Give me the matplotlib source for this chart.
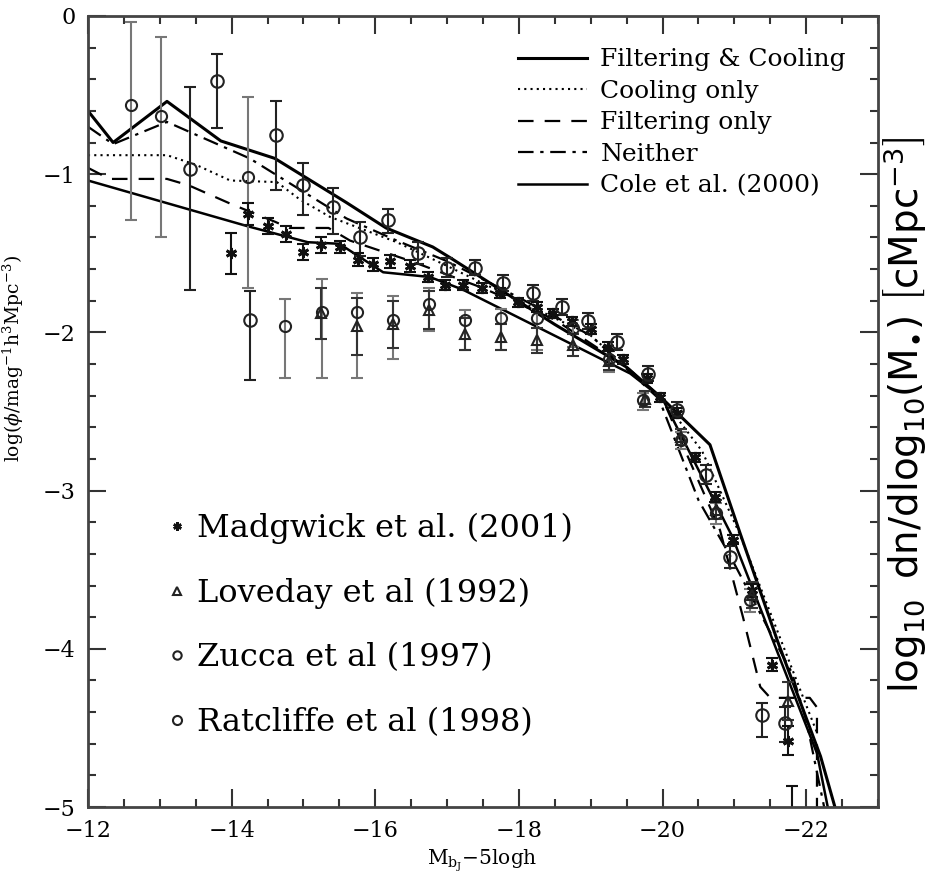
import matplotlib
matplotlib.use('Agg')
import matplotlib.pyplot as plt
from matplotlib.lines import Line2D
from matplotlib.ticker import MultipleLocator

plt.rcParams['font.family'] = 'DejaVu Serif'
plt.rcParams['mathtext.fontset'] = 'dejavuserif'

# model luminosity functions
fc_x = [-12.0, -12.35, -13.1, -13.85, -14.6, -15.6, -16.15, -16.8, -17.05, -17.5,
        -18.5, -19.5, -20.0, -20.66, -21.08, -21.6, -22.2, -22.4]
fc_y = [-0.60, -0.80, -0.54, -0.79, -0.90, -1.18, -1.34, -1.46, -1.53, -1.66,
        -1.95, -2.22, -2.42, -2.71, -3.27, -3.95, -4.68, -5.0]

cool_x = [-12.0, -13.1, -13.5, -13.98, -14.63, -14.95, -15.37, -16.3, -17.0, -18.0,
          -19.0, -20.0, -20.55, -21.08, -21.96, -22.15]
cool_y = [-0.88, -0.88, -0.94, -1.04, -1.05, -1.16, -1.27, -1.43, -1.58, -1.80,
          -2.02, -2.42, -2.75, -3.28, -4.31, -4.53]

filt_x = [-12.0, -12.3, -13.1, -13.4, -14.0, -14.6, -14.8, -15.35, -15.65, -16.5,
          -17.5, -18.5, -19.5, -20.0, -20.8, -21.12, -21.36, -21.5, -22.05, -22.15, -22.15]
filt_y = [-0.96, -1.03, -1.03, -1.07, -1.19, -1.30, -1.34, -1.34, -1.42, -1.55,
          -1.72, -1.92, -2.22, -2.42, -3.25, -3.80, -4.24, -4.31, -4.31, -4.37, -5.0]

neith_x = [-12.0, -12.35, -13.1, -14.25, -15.6, -16.3, -17.0, -18.0, -19.0, -19.95,
           -20.5, -20.95, -21.55, -21.8, -22.0, -22.25]
neith_y = [-0.70, -0.81, -0.67, -0.90, -1.28, -1.42, -1.55, -1.78, -2.02, -2.42,
           -3.06, -3.42, -3.94, -4.15, -4.45, -5.0]

cole_x = [-12.0, -14.23, -15.06, -15.5, -16.11, -16.76, -17.22, -19.55, -20.0,
          -20.97, -22.15, -22.3]
cole_y = [-1.04, -1.33, -1.43, -1.44, -1.62, -1.65, -1.73, -2.26, -2.42,
          -3.29, -4.66, -5.0]

# Madgwick et al. (2001)
mad_x = [-13.99, -14.23, -14.51, -14.76, -15.0, -15.25, -15.51, -15.76, -15.97, -16.2,
         -16.49, -16.74, -16.97, -17.22, -17.49, -17.74, -17.99, -18.25, -18.48, -18.74,
         -19.0, -19.24, -19.45, -19.79, -19.97, -20.2, -20.45, -20.73, -20.98, -21.25,
         -21.53, -21.75, -21.8]
mad_y = [-1.50, -1.25, -1.33, -1.38, -1.49, -1.45, -1.46, -1.54, -1.57, -1.55,
         -1.58, -1.65, -1.70, -1.70, -1.72, -1.75, -1.81, -1.84, -1.88, -1.93,
         -1.98, -2.09, -2.17, -2.29, -2.41, -2.51, -2.79, -3.04, -3.31, -3.63,
         -4.10, -4.58, -5.25]
mad_e = [0.13, 0.07, 0.05, 0.05, 0.05, 0.05, 0.04, 0.04, 0.04, 0.04,
         0.04, 0.03, 0.03, 0.03, 0.03, 0.03, 0.03, 0.03, 0.03, 0.03,
         0.03, 0.03, 0.03, 0.03, 0.03, 0.03, 0.03, 0.03, 0.03, 0.04,
         0.04, 0.09, 0.38]

# Loveday et al (1992)
lov_x = [-15.25, -15.75, -16.25, -16.75, -17.25, -17.75, -18.25, -18.75, -19.25,
         -19.75, -20.25, -20.75, -21.25, -21.75]
lov_y = [-1.88, -1.96, -1.95, -1.86, -2.01, -2.03, -2.05, -2.08, -2.18,
         -2.42, -2.66, -3.12, -3.66, -4.33]
lov_e = [0.16, 0.18, 0.15, 0.12, 0.10, 0.08, 0.08, 0.07, 0.06,
         0.05, 0.05, 0.06, 0.08, 0.12]

# Zucca et al (1997)
zuc_x = [-12.6, -13.02, -14.23, -14.74, -15.26, -15.75, -16.25, -16.75, -17.25,
         -17.75, -18.25, -18.75, -19.25, -19.73, -20.25, -20.74, -21.22]
zuc_y = [-0.56, -0.63, -1.02, -1.96, -1.87, -1.87, -1.92, -1.82, -1.92,
         -1.91, -1.91, -1.97, -2.17, -2.43, -2.68, -3.14, -3.69]
zuc_lo = [0.73, 0.77, 0.70, 0.33, 0.42, 0.42, 0.25, 0.17, 0.19,
          0.20, 0.20, 0.12, 0.08, 0.06, 0.06, 0.07, 0.08]
zuc_hi = [0.52, 0.50, 0.51, 0.17, 0.21, 0.12, 0.15, 0.10, 0.06,
          0.06, 0.06, 0.05, 0.05, 0.05, 0.05, 0.06, 0.07]

# Ratcliffe et al (1998)
rat_x = [-13.42, -13.8, -14.26, -14.62, -15.0, -15.41, -15.79, -16.18, -16.6, -17.0,
         -17.39, -17.78, -18.2, -18.6, -18.96, -19.37, -19.8, -20.2, -20.6, -20.94,
         -21.39, -21.71]
rat_y = [-0.97, -0.41, -1.92, -0.75, -1.07, -1.21, -1.40, -1.29, -1.50, -1.59,
         -1.59, -1.69, -1.75, -1.84, -1.93, -2.06, -2.26, -2.49, -2.90, -3.42,
         -4.42, -4.47]
rat_lo = [0.76, 0.30, 0.38, 0.35, 0.19, 0.17, 0.12, 0.08, 0.07, 0.06,
          0.05, 0.05, 0.05, 0.05, 0.05, 0.05, 0.05, 0.05, 0.06, 0.07,
          0.14, 0.12]
rat_hi = [0.52, 0.17, 0.18, 0.21, 0.14, 0.12, 0.10, 0.07, 0.07, 0.06,
          0.05, 0.05, 0.05, 0.05, 0.05, 0.05, 0.05, 0.05, 0.06, 0.07,
          0.08, 0.10]

fig = plt.figure(figsize=(9.3, 8.77), dpi=100)
ax = fig.add_axes([0.0946, 0.0798, 0.8495, 0.902])

ax.plot(fc_x, fc_y, color='black', lw=2.2, ls='-', label='Filtering & Cooling')
ax.plot(cool_x, cool_y, color='black', lw=1.5, ls=(0, (1, 2)), label='Cooling only')
ax.plot(filt_x, filt_y, color='black', lw=1.6, ls=(0, (7, 5)), label='Filtering only')
ax.plot(neith_x, neith_y, color='black', lw=1.6, ls=(0, (7, 3, 1.5, 3)), label='Neither')
ax.plot(cole_x, cole_y, color='black', lw=1.8, ls='-', label='Cole et al. (2000)')

eb = dict(capsize=4, elinewidth=1.5, capthick=1.5, ls='none')
ax.errorbar(zuc_x, zuc_y, yerr=[zuc_lo, zuc_hi], fmt='o', ms=8, mfc='none', mec='#222222',
            mew=1.5, ecolor='#777777', **eb)
ax.errorbar(rat_x, rat_y, yerr=[rat_lo, rat_hi], fmt='o', ms=9, mfc='none', mec='#222222',
            mew=1.5, ecolor='#222222', **eb)
ax.errorbar(lov_x, lov_y, yerr=lov_e, fmt='^', ms=7, mfc='none', mec='#222222',
            mew=1.5, ecolor='#333333', **eb)
ax.errorbar(mad_x, mad_y, yerr=mad_e, fmt='none', ecolor='#111111', **eb)
ax.plot(mad_x, mad_y, ls='none', marker=(6, 2, 0), ms=8, mew=2, color='#111111')

ax.set_xlim(-12, -23)
ax.set_ylim(-5, 0)
ax.xaxis.set_major_locator(MultipleLocator(2))
ax.xaxis.set_minor_locator(MultipleLocator(0.5))
ax.yaxis.set_major_locator(MultipleLocator(1))
ax.yaxis.set_minor_locator(MultipleLocator(0.2))
ax.tick_params(which='both', direction='in', top=True, right=True, color='#333333',
               width=1.5, labelsize=16, pad=9)
ax.tick_params(which='major', length=13)
ax.tick_params(which='minor', length=6)
for s in ax.spines.values():
    s.set_linewidth(2)
    s.set_color('#444444')

# model legend, top right
leg1 = ax.legend(loc='upper left', bbox_to_anchor=(0.544, 0.959), frameon=False,
                 fontsize=18, handlelength=2.75, handletextpad=0.55, labelspacing=0.34,
                 borderpad=0, borderaxespad=0)
ax.add_artist(leg1)

# survey legend, lower left
data_handles = [
    Line2D([], [], ls='none', marker=(6, 2, 0), ms=6, mew=1.8, color='#111111'),
    Line2D([], [], ls='none', marker='^', ms=6, mfc='none', mec='#222222', mew=1.5),
    Line2D([], [], ls='none', marker='o', ms=6, mfc='none', mec='#222222', mew=1.5),
    Line2D([], [], ls='none', marker='o', ms=6.5, mfc='none', mec='#222222', mew=1.5),
]
data_labels = ['Madgwick et al. (2001)', 'Loveday et al (1992)',
               'Zucca et al (1997)', 'Ratcliffe et al (1998)']
ax.legend(data_handles, data_labels, loc='upper left', bbox_to_anchor=(0.103, 0.372),
          frameon=False, fontsize=23, handlelength=0.5, handletextpad=0.35,
          labelspacing=1.05, borderpad=0, borderaxespad=0)

fig.text(0.519, 0.019, r'$\mathregular{M_{b_J}}$$\mathregular{-}$5logh', ha='center',
         va='center', fontsize=14.5)
fig.text(0.014, 0.592, r'log($\phi$/mag$^{-1}$h$^3$Mpc$^{-3}$)', rotation=90,
         ha='center', va='center', fontsize=13.5)
fig.text(0.973, 0.527,
         r'$\log_{10}\ \mathrm{dn/dlog_{10}(M_{\bullet})}\ \left[\mathrm{cMpc}^{-3}\right]$',
         rotation=90, ha='center', va='center', fontsize=28, family='DejaVu Sans',
         math_fontfamily='dejavusans')

fig.savefig('out.png', dpi=100)
